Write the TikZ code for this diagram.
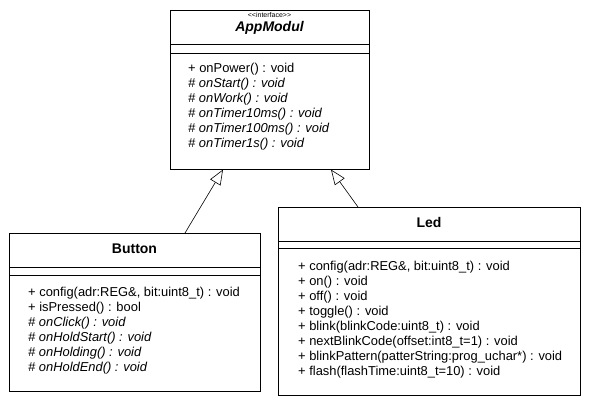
\documentclass[tikz,border=0pt]{standalone}
\usepackage{fontspec}
\setmainfont{Liberation Sans}
\usetikzlibrary{arrows.meta}
\begin{document}
\begin{tikzpicture}[x=1pt,y=-1pt,
  classbox/.style={draw=black,line width=0.8pt,anchor=north west,inner sep=0pt},
  sep/.style={line width=0.8pt},
  meth/.style={anchor=base west,inner sep=0pt,font=\fontsize{12.9}{15}\selectfont},
  imeth/.style={meth,font=\fontsize{12.9}{15}\selectfont\itshape},
  title/.style={anchor=base,inner sep=0pt,font=\fontsize{14}{16}\selectfont\bfseries},
  stereo/.style={anchor=base,inner sep=0pt,font=\fontsize{7}{8}\selectfont},
  inherit/.style={line width=0.6pt,-{Triangle[open,length=15pt,width=12pt]}}]
\useasboundingbox (0,0) rectangle (594,406);
\fill[white] (0,0) rectangle (594,406);
% AppModul
\node[classbox,minimum width=199pt,minimum height=159pt] (app) at (170,10) {};
\draw[sep] (170,44) -- (369,44);
\draw[sep] (170,53) -- (369,53);
\node[stereo] (appst) at (269.5,18) {<{}<interface>{}>};
\node[title,font=\fontsize{14}{16}\selectfont\bfseries\itshape] (appt) at (269.5,32) {AppModul};
\node[meth] (a1) at (188,73) {+ onPower() : void};
\node[imeth] (a2) at (188,88) {\# onStart() : void};
\node[imeth] (a3) at (188,103) {\# onWork() : void};
\node[imeth] (a4) at (188,118) {\# onTimer10ms() : void};
\node[imeth] (a5) at (188,133) {\# onTimer100ms() : void};
\node[imeth] (a6) at (188,148) {\# onTimer1s() : void};
% Button
\node[classbox,minimum width=251pt,minimum height=158pt] (btn) at (9,233) {};
\draw[sep] (9,267) -- (260,267);
\draw[sep] (9,275) -- (260,275);
\node[title] (btnt) at (134.5,253) {Button};
\node[meth] (b1) at (28,296) {+ config(adr:REG\&, bit:uint8\_t) : void};
\node[meth] (b2) at (28,311) {+ isPressed() : bool};
\node[imeth] (b3) at (28,326) {\# onClick() : void};
\node[imeth] (b4) at (28,341) {\# onHoldStart() : void};
\node[imeth] (b5) at (28,356) {\# onHolding() : void};
\node[imeth] (b6) at (28,371) {\# onHoldEnd() : void};
% Led
\node[classbox,minimum width=302pt,minimum height=188pt] (led) at (278,207) {};
\draw[sep] (278,241) -- (580,241);
\draw[sep] (278,248) -- (580,248);
\node[title] (ledt) at (429,227) {Led};
\node[meth] (l1) at (298,270) {+ config(adr:REG\&, bit:uint8\_t) : void};
\node[meth] (l2) at (298,285) {+ on() : void};
\node[meth] (l3) at (298,300) {+ off() : void};
\node[meth] (l4) at (298,315) {+ toggle() : void};
\node[meth] (l5) at (298,330) {+ blink(blinkCode:uint8\_t) : void};
\node[meth] (l6) at (298,345) {+ nextBlinkCode(offset:int8\_t=1) : void};
\node[meth] (l7) at (298,360) {+ blinkPattern(patterString:prog\_uchar*) : void};
\node[meth] (l8) at (298,375) {+ flash(flashTime:uint8\_t=10) : void};
% inheritance
\coordinate (btop) at (185,233);
\coordinate (atip1) at (223,169.6);
\coordinate (ltop) at (358,207);
\coordinate (atip2) at (331,169.6);
\draw[inherit] (btop) -- (atip1);
\draw[inherit] (ltop) -- (atip2);
\end{tikzpicture}
\end{document}
